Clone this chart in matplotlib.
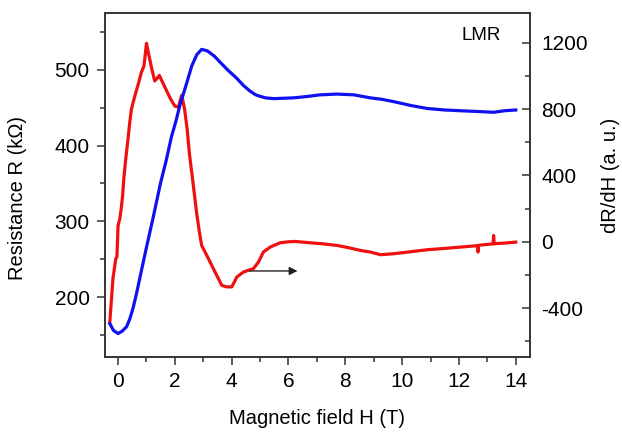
import matplotlib
matplotlib.use("Agg")
import matplotlib.pyplot as plt
from matplotlib.ticker import MultipleLocator

plt.rcParams['font.family'] = ['Liberation Sans', 'DejaVu Sans']
plt.rcParams['axes.unicode_minus'] = False

# Resistance R (kOhm) vs field (blue, left axis)
field_r = [-0.28, -0.15, 0.01, 0.15, 0.31, 0.42, 0.54, 0.66, 0.78, 1.01, 1.25, 1.5,
           1.7, 1.89, 2.05, 2.19, 2.42, 2.6, 2.78, 2.95, 3.15, 3.4, 3.6, 3.89, 4.18,
           4.43, 4.65, 4.85, 5.01, 5.2, 5.48, 6.18, 6.7, 7.12, 7.71, 8.3, 8.89, 9.3,
           9.71, 10.3, 10.88, 11.5, 12.06, 12.65, 13.23, 13.6, 14.0]
resistance = [165, 156, 152, 155, 161, 171, 186, 205, 226, 266, 306, 350,
              380, 412, 433, 454, 482, 505, 520, 527, 525, 518, 510, 499, 489,
              479, 472, 467, 465, 463, 462, 463, 465, 467, 468, 467, 463, 461,
              458, 453, 449, 447, 446, 445, 444, 446, 447]

# dR/dH (a. u.) vs field (red, right axis)
field_d = [-0.28, -0.17, -0.07, -0.03, 0.01, 0.07, 0.12, 0.17, 0.21, 0.28, 0.36, 0.42,
           0.48, 0.6, 0.72, 0.83, 0.92, 1.01, 1.1, 1.2, 1.3, 1.38, 1.46, 1.58, 1.72,
           1.86, 2.01, 2.13, 2.25, 2.35, 2.44, 2.52, 2.63, 2.77, 2.86, 2.95, 3.13, 3.42,
           3.6, 3.66, 3.83, 4.01, 4.19, 4.42, 4.77, 4.95, 5.12, 5.36, 5.71, 6.0, 6.24,
           6.77, 7.2, 7.71, 8.1, 8.53, 8.89, 9.24, 9.71, 10.3, 10.88, 11.5, 12.06, 12.6,
           12.65, 12.67, 12.69, 12.75, 13.1, 13.2, 13.22, 13.24, 13.3, 13.6, 14.0]
dRdH = [-483, -222, -102, -90, 98, 138, 200, 278, 379, 500, 620, 720,
        800, 880, 950, 1022, 1060, 1197, 1120, 1040, 970, 985, 1004, 960, 910,
        860, 818, 812, 884, 800, 680, 530, 379, 179, 70, -22, -82, -182,
        -243, -263, -272, -272, -212, -182, -162, -122, -62, -32, -6, 0, 2,
        -6, -12, -22, -35, -52, -62, -78, -72, -60, -48, -40, -32, -24,
        -22, -62, -22, -20, -14, -13, 38, -12, -11, -8, -2]

# arrow showing which axis the red curve belongs to
arrow_x = (4.54, 6.42)
arrow_y = -176

fig = plt.figure(figsize=(6.22, 4.32), dpi=100)
ax = fig.add_axes([0.1688, 0.1736, 0.6833, 0.7963])
ax2 = ax.twinx()

ax.plot(field_r, resistance, color='#1010f0', lw=2.3, zorder=3)
ax2.plot(field_d, dRdH, color='#f01010', lw=2.3)
ax2.annotate('', xy=(arrow_x[1], arrow_y), xytext=(arrow_x[0], arrow_y),
             arrowprops=dict(arrowstyle='-|>', color='#222222', lw=1.0, mutation_scale=12))

ax.set_zorder(ax2.get_zorder() + 1)
ax.patch.set_visible(False)

ax.set_xlim(-0.45, 14.5)
ax.set_ylim(121, 575)
ax2.set_ylim(-695, 1380)

ax.xaxis.set_major_locator(MultipleLocator(2))
ax.xaxis.set_minor_locator(MultipleLocator(1))
ax.yaxis.set_major_locator(MultipleLocator(100))
ax.yaxis.set_minor_locator(MultipleLocator(50))
ax2.yaxis.set_major_locator(MultipleLocator(400))
ax2.yaxis.set_minor_locator(MultipleLocator(200))

for a in (ax, ax2):
    for s in a.spines.values():
        s.set_color('#333333')
        s.set_linewidth(1.2)

ax.tick_params(axis='both', which='major', direction='out', length=6, width=1.1,
               labelsize=15, color='#333333', pad=5)
ax.tick_params(axis='both', which='minor', direction='out', length=3.5, width=1.1,
               color='#333333')
ax.tick_params(axis='x', top=False, which='both')
ax2.tick_params(axis='y', which='major', direction='in', length=6, width=1.1,
                labelsize=15, color='#333333', pad=8)
ax2.tick_params(axis='y', which='minor', direction='in', length=3.5, width=1.1,
                color='#333333')

ax.set_xlabel('Magnetic field H (T)', fontsize=14.5)
ax.set_ylabel('Resistance R (kΩ)', fontsize=14.5)
ax2.set_ylabel('dR/dH (a. u.)', fontsize=14.5)
ax.xaxis.set_label_coords(0.5, -0.15)
ax.yaxis.set_label_coords(-0.184, 0.462)
ax2.yaxis.set_label_coords(1.167, 0.529)

ax.text(0.885, 0.936, 'LMR', transform=ax.transAxes, fontsize=13.5,
        ha='center', va='center')

fig.savefig('out.png', dpi=100)
